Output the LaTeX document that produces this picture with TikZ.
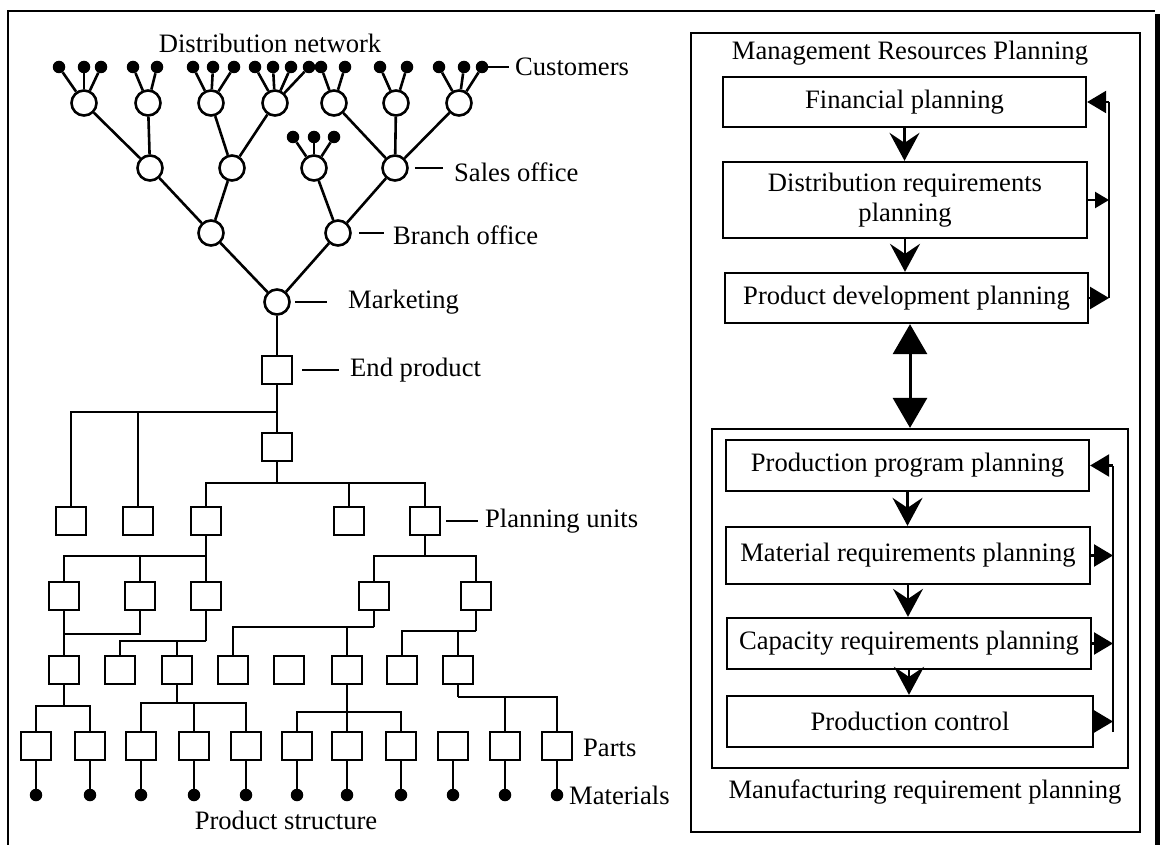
\documentclass[tikz,border=0pt]{standalone}
\usepackage{fontspec}
\setmainfont{Liberation Serif}
\usetikzlibrary{arrows.meta}

\begin{document}
\begin{tikzpicture}[x=1pt,y=-1pt,
  txt/.style={font=\fontsize{26.6}{30}\selectfont, inner sep=0pt},
  lbl/.style={txt, anchor=west},
  tree/.style={line width=2.6pt},
  hub/.style={circle, draw, line width=2.6pt, minimum size=25pt, inner sep=0pt},
  part/.style={rectangle, draw, line width=2.4pt, minimum width=30pt, minimum height=28pt, inner sep=0pt},
  leaf/.style={circle, fill, minimum size=12.5pt, inner sep=0pt},
  stage/.style={rectangle, draw, line width=2.3pt, align=center, txt},
  frame/.style={rectangle, draw, line width=2.2pt, inner sep=0pt},
  flow/.style={line width=2.3pt, -{Stealth[length=28pt, width=30pt, inset=10pt]}},
  link/.style={line width=3pt, {Triangle[length=30pt, width=34pt]}-{Triangle[length=30pt, width=34pt]}},
  loop/.style={line width=2.3pt},
  back/.style={line width=2.3pt, -{Triangle[length=19pt, width=22pt]}},
  backsm/.style={line width=2.3pt, -{Triangle[length=14pt, width=16pt]}}
]
\useasboundingbox (0,0) rectangle (1165,845);
\fill[white] (0,0) rectangle (1165,845);

% page frame
\draw[line width=2.2pt] (8,845) -- (8,11) -- (1155,11);
\draw[line width=5pt] (1157,14) -- (1157,845);

% ---------------- distribution network ----------------
\node[txt] (distnet) at (270,43) {Distribution network};

\node[hub] (t1) at (84,103) {};
\node[hub] (t2) at (148,103) {};
\node[hub] (t3) at (211,103) {};
\node[hub] (t4) at (275,103) {};
\node[hub] (t5) at (334,103) {};
\node[hub] (t6) at (396,103) {};
\node[hub] (t7) at (459,103) {};
\node[hub] (s1) at (150,168) {};
\node[hub] (s2) at (232,168) {};
\node[hub] (s3) at (314,168) {};
\node[hub] (s4) at (395,168) {};
\node[hub] (b1) at (211,233) {};
\node[hub] (b2) at (338,233) {};
\node[hub] (mk) at (277,302) {};

\draw[tree] (mk) -- (b1);  \draw[tree] (mk) -- (b2);
\draw[tree] (b1) -- (s1);  \draw[tree] (b1) -- (s2);
\draw[tree] (b2) -- (s3);  \draw[tree] (b2) -- (s4);
\draw[tree] (s1) -- (t1);  \draw[tree] (s1) -- (t2);
\draw[tree] (s2) -- (t3);  \draw[tree] (s2) -- (t4);
\draw[tree] (s4) -- (t5);  \draw[tree] (s4) -- (t6);  \draw[tree] (s4) -- (t7);

% customers
\foreach \h/\xs [count=\i] in {t1/{59,84,101}, t2/{133,157}, t3/{193,213,234},
    t4/{255,273,291,309}, t5/{321,345}, t6/{380,407}, t7/{439,464,482}} {
  \foreach \xx [count=\j] in \xs {
    \node[leaf] (c\i-\j) at (\xx,67) {};
    \draw[tree] (\h) -- (c\i-\j);
  }
}
\foreach \xx [count=\j] in {293,314,334} {
  \node[leaf] (d\j) at (\xx,137) {};
  \draw[tree] (s3) -- (d\j);
}

% level labels
\node[lbl] (lcust) at (515,67) {Customers};
\draw[tree] (c7-3) -- ([xshift=-6pt]lcust.west);
\node[lbl] (lsales) at (454,172) {Sales office};
\draw[tree] ([xshift=6pt]s4.east) -- ([xshift=-11pt]lsales.west |- s4.east);
\node[lbl] (lbranch) at (393,235) {Branch office};
\draw[tree] ([xshift=7pt]b2.east) -- ([xshift=-9pt]lbranch.west |- b2.east);
\node[lbl] (lmark) at (348,302) {Marketing};
\draw[tree] ([xshift=4pt]mk.east) -- ([xshift=-21pt]lmark.west |- mk.east);

% ---------------- product structure ----------------
\node[part] (ep) at (277,370) {};
\node[lbl] (lend) at (350,370) {End product};
\draw[tree] ([xshift=9pt]ep.east) -- ([xshift=-11pt]lend.west |- ep.east);
\draw[tree] (mk) -- (ep);

\node[part] (q) at (277,447) {};
\foreach \n/\xx in {p1/71, p2/138, p3/206, p4/349, p5/425}
  \node[part] (\n) at (\xx,521) {};
\node[lbl] (lplan) at (485,521) {Planning units};
\draw[tree] ([xshift=5pt]p5.east) -- ([xshift=-7pt]lplan.west |- p5.east);

\coordinate (j1) at (277,412);
\coordinate (j2) at (277,483);
\draw[tree] (ep) -- (q);
\draw[tree] (j1) -| (p1);
\draw[tree] (j1) -| (p2);
\draw[tree] (q) -- (j2);
\draw[tree] (j2) -| (p3);
\draw[tree] (j2) -| (p4);
\draw[tree] (j2) -| (p5);

\foreach \n/\xx in {r3a/64, r3b/140, r3c/206, r3d/374, r3e/476}
  \node[part] (\n) at (\xx,596) {};
\coordinate (j3) at (206,556);
\coordinate (j4) at (425,556);
\draw[tree] (p3) -- (r3c);
\draw[tree] (j3) -| (r3a);
\draw[tree] (j3) -| (r3b);
\draw[tree] (p5) -- (j4);
\draw[tree] (j4) -| (r3d);
\draw[tree] (j4) -| (r3e);

\foreach \n/\xx in {r4a/64, r4b/120, r4c/177, r4d/233, r4e/289, r4f/347, r4g/402, r4h/458}
  \node[part] (\n) at (\xx,670) {};
\coordinate (j5) at (64,634);
\coordinate (j6) at (206,641);
\coordinate (j7) at (374,627);
\coordinate (j8) at (476,631);
\draw[tree] (r3a) -- (r4a);
\draw[tree] (r3b) |- (j5);
\draw[tree] (r3c) -- (j6);
\draw[tree] (j6) -| (r4b);
\draw[tree] (j6) -| (r4c);
\draw[tree] (r3d) -- (j7);
\draw[tree] (j7) -| (r4d);
\draw[tree] (j7) -| (r4f);
\draw[tree] (r3e) -- (j8);
\draw[tree] (j8) -| (r4g);
\draw[tree] (j8) -| (r4h);

\foreach \n/\xx [count=\k] in {r5a/36, r5b/90, r5c/141, r5d/194, r5e/246, r5f/297,
    r5g/347, r5h/401, r5i/453, r5j/505, r5k/557} {
  \node[part] (\n) at (\xx,746) {};
  \node[leaf] (mat\k) at (\xx,795) {};
  \draw[tree] (\n) -- (mat\k);
}
\coordinate (j9) at (64,706);
\coordinate (j10) at (177,703);
\coordinate (j11) at (347,712);
\coordinate (j12) at (458,697);
\draw[tree] (r4a) -- (j9);
\draw[tree] (j9) -| (r5a);
\draw[tree] (j9) -| (r5b);
\draw[tree] (r4c) -- (j10);
\draw[tree] (j10) -| (r5c);
\draw[tree] (j10) -| (r5d);
\draw[tree] (j10) -| (r5e);
\draw[tree] (r4f) -- (r5g);
\draw[tree] (j11) -| (r5f);
\draw[tree] (j11) -| (r5h);
\draw[tree] (r4h) -- (j12);
\draw[tree] (j12) -| (r5j);
\draw[tree] (j12) -| (r5k);

\node[lbl] (lparts) at (583,748) {Parts};
\node[lbl] (lmat) at (569,795) {Materials};
\node[txt] (lprod) at (286,820) {Product structure};

% ---------------- planning hierarchy ----------------
\node[frame, minimum width=449pt, minimum height=799pt] (mrpbox) at (915.5,432.5) {};
\node[txt] (mrptitle) at (910,53) {Management Resources Planning};

\node[stage, minimum width=363pt, minimum height=50pt] (fin) at (904.5,102) {Financial planning};
\node[stage, minimum width=364pt, minimum height=76pt] (dist) at (905,200) {Distribution requirements\\planning};
\node[stage, minimum width=363pt, minimum height=50pt] (pdev) at (906.5,298) {Product development planning};

\draw[flow] (fin.south) -- (fin.south |- dist.north);
\draw[flow] (dist.south) -- (dist.south |- pdev.north);

\coordinate (fbx) at (1109,0);
\draw[loop] (pdev.east -| fbx) -- (fin.east -| fbx);
\draw[back] (fin.east -| fbx) -- (fin.east);
\draw[backsm] (dist.east) -- (dist.east -| fbx);
\draw[back] (pdev.east) -- (pdev.east -| fbx);

\node[frame, minimum width=416pt, minimum height=339pt] (mfgbox) at (920,598.5) {};
\node[txt] (mfgtitle) at (925,792) {Manufacturing requirement planning};

\draw[link] ([xshift=3.5pt]pdev.south) -- ([xshift=3.5pt]pdev.south |- mfgbox.north);

\node[stage, minimum width=363pt, minimum height=51pt] (ppp) at (907.5,465.5) {Production program planning};
\node[stage, minimum width=364pt, minimum height=57pt] (mat) at (908,555.5) {Material requirements planning};
\node[stage, minimum width=364pt, minimum height=51pt] (cap) at (909,643.5) {Capacity requirements planning};
\node[stage, minimum width=366pt, minimum height=51pt] (pctl) at (910,721.5) {Production control};

\draw[flow] (ppp.south) -- (ppp.south |- mat.north);
\draw[flow] (mat.south) -- (mat.south |- cap.north);
\draw[flow] (cap.south) -- (cap.south |- pctl.north);

\coordinate (fbm) at (1113,0);
\coordinate (fbmend) at (1113,732);
\draw[loop] (fbmend) -- (ppp.east -| fbm);
\draw[back] (ppp.east -| fbm) -- (ppp.east);
\draw[back] (mat.east) -- (mat.east -| fbm);
\draw[back] (cap.east) -- (cap.east -| fbm);
\draw[back] (pctl.east) -- (pctl.east -| fbm);

\end{tikzpicture}
\end{document}
